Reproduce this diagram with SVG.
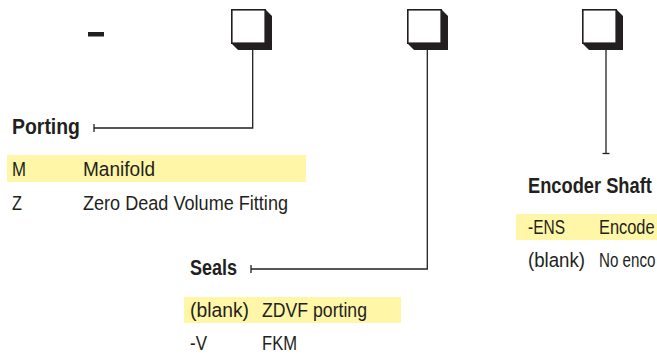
<svg xmlns="http://www.w3.org/2000/svg" width="657" height="354" viewBox="0 0 657 354">
<defs>
<style>
.t{font-family:"Liberation Sans",Arial,sans-serif;font-size:20.5px;fill:#231f20}
.h{font-family:"Liberation Sans",Arial,sans-serif;font-size:21.5px;font-weight:bold;fill:#231f20}
.hl{fill:#fff6a8}
.c{fill:none;stroke:#231f20;stroke-width:1.3}
.front{fill:#fff;stroke:#231f20;stroke-width:1.6}
.shadow{fill:#231f20}
</style>
<g id="box">
<polygon class="shadow" points="34,0 41,7 41,41 7,41 0,34"/>
<rect class="front" x="0.8" y="0.8" width="33.4" height="33.4"/>
</g>
</defs>
<rect width="657" height="354" fill="#fff"/>
<rect id="dash" x="88" y="32" width="16" height="4.5" fill="#231f20"/>
<g id="box1"><use href="#box" x="231" y="9"/></g>
<g id="box2"><use href="#box" x="407" y="9"/></g>
<g id="box3"><use href="#box" x="582" y="9"/></g>
<g id="connectors">
<polyline class="c" points="252.7,50 252.7,128 94,128"/>
<line class="c" x1="94" y1="124" x2="94" y2="132"/>
<polyline class="c" points="427.3,50 427.3,269 251,269"/>
<line class="c" x1="251" y1="265" x2="251" y2="273"/>
<line class="c" x1="606" y1="50" x2="606" y2="153.5"/>
<line class="c" x1="602.5" y1="153.5" x2="609.5" y2="153.5"/>
</g>
<g id="porting">
<text class="h" x="12" y="134" textLength="68" lengthAdjust="spacingAndGlyphs">Porting</text>
<rect class="hl" x="7" y="155" width="299" height="27"/>
<text class="t" x="12" y="176" textLength="14" lengthAdjust="spacingAndGlyphs">M</text>
<text class="t" x="83" y="176" textLength="72" lengthAdjust="spacingAndGlyphs">Manifold</text>
<text class="t" x="12" y="210" textLength="10" lengthAdjust="spacingAndGlyphs">Z</text>
<text class="t" x="83" y="210" textLength="205" lengthAdjust="spacingAndGlyphs">Zero Dead Volume Fitting</text>
</g>
<g id="seals">
<text class="h" x="190" y="275" textLength="47" lengthAdjust="spacingAndGlyphs">Seals</text>
<rect class="hl" x="184" y="297" width="217" height="26"/>
<text class="t" x="190" y="317" textLength="59" lengthAdjust="spacingAndGlyphs">(blank)</text>
<text class="t" x="262" y="317" textLength="105" lengthAdjust="spacingAndGlyphs">ZDVF porting</text>
<text class="t" x="190" y="350" textLength="17" lengthAdjust="spacingAndGlyphs">-V</text>
<text class="t" x="262" y="350" textLength="35" lengthAdjust="spacingAndGlyphs">FKM</text>
</g>
<g id="encoder">
<text class="h" transform="translate(528,193) scale(0.85,1)">Encoder Shaft</text>
<rect class="hl" x="516" y="214" width="141" height="26"/>
<text class="t" x="528" y="234" textLength="37" lengthAdjust="spacingAndGlyphs">-ENS</text>
<text class="t" transform="translate(599,234) scale(0.8,1)">Encode</text>
<text class="t" transform="translate(599,267) scale(0.74,1)">No enco</text>
<text class="t" x="528" y="267" textLength="57" lengthAdjust="spacingAndGlyphs">(blank)</text>
</g>
</svg>
